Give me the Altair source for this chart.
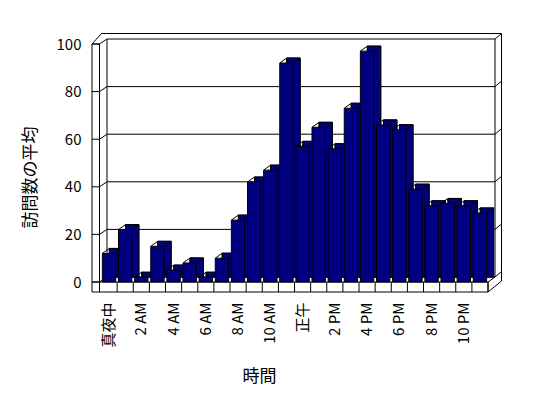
import altair as alt
import pandas as pd

hours = list(range(24))
hour_labels = ["真夜中", "1 AM", "2 AM", "3 AM", "4 AM", "5 AM", "6 AM", "7 AM",
               "8 AM", "9 AM", "10 AM", "11 AM", "正午", "1 PM", "2 PM", "3 PM",
               "4 PM", "5 PM", "6 PM", "7 PM", "8 PM", "9 PM", "10 PM", "11 PM"]
visits = [12, 22, 2, 15, 5, 8, 2, 10, 26, 42, 47, 92,
          57, 65, 56, 73, 97, 66, 64, 39, 32, 33, 32, 29]
grid_values = [0, 20, 40, 60, 80, 100]

df = pd.DataFrame({"h": hours, "label": hour_labels, "v": visits})
gdf = pd.DataFrame({"g": grid_values})

FONT = "Noto Sans CJK JP"
NAVY = "#000080"
W, H = 387, 238
DX, DY = 7, -5

shown = [lab if i % 2 == 0 else "" for i, lab in enumerate(hour_labels)]
label_expr = "[" + ",".join("'" + s + "'" for s in shown) + "][datum.value]"

x_enc = alt.X("h:O",
              scale=alt.Scale(paddingInner=0.17, paddingOuter=0.085),
              axis=alt.Axis(title="時間", labelExpr=label_expr, labelAngle=-90,
                            domain=False, ticks=False, labelPadding=20,
                            labelFont=FONT, labelFontSize=15, labelColor="black",
                            titleFont=FONT, titleFontSize=17, titleFontWeight="normal",
                            titleColor="black", titleX=158, titleY=94.5,
                            titleBaseline="middle", titleAlign="center", grid=False))
y_enc = alt.Y("v:Q",
              scale=alt.Scale(domain=[0, 100], nice=False),
              axis=alt.Axis(title="訪問数の平均", values=grid_values, domain=False,
                            ticks=False, grid=False, labelPadding=20,
                            labelFont=FONT, labelFontSize=15, labelColor="black",
                            titleFont=FONT, titleFontSize=17, titleFontWeight="normal",
                            titleColor="black", titleX=-71, titleY=133,
                            titleBaseline="middle", titleAlign="center", titleAngle=-90))

one = alt.Data(values=[{"a": 1}])


def seg(x1, v1, o1, x2, v2, o2):
    return alt.Chart(one).mark_rule(color="black", strokeWidth=1, yOffset=o1, y2Offset=o2).encode(
        x=alt.value(x1), x2=alt.value(x2), y=alt.datum(v1), y2=alt.datum(v2))


# back wall gridlines and wall ticks
grid_back = alt.Chart(gdf).mark_rule(color="black", yOffset=DY).encode(
    y=alt.Y("g:Q"), x=alt.value(6), x2=alt.value(394))
grid_tick = alt.Chart(gdf).mark_rule(color="black").encode(
    y=alt.Y("g:Q"), x=alt.value(-9), x2=alt.value(-1.5))
grid_diag = alt.Chart(gdf).mark_rule(color="black", y2Offset=DY).encode(
    y=alt.Y("g:Q"), y2=alt.Y2("g"), x=alt.value(-1.5), x2=alt.value(6))
grid_rdiag = alt.Chart(gdf).mark_rule(color="black", yOffset=DY, y2Offset=-10).encode(
    y=alt.Y("g:Q"), y2=alt.Y2("g"), x=alt.value(394), x2=alt.value(400))

frame = [
    seg(6, 100, DY, 6, 0, DY),          # back wall left edge
    seg(394, 100, DY, 394, 0, DY),      # back wall right edge
    seg(0.5, 100, -10.5, 400.5, 100, -10.5),  # back wall outer top
    seg(400.5, 100, -10.5, 400.5, 0, -1),     # back wall outer right
    seg(-9, 100, 0, 0.5, 100, -10.5),   # left wall outer top diagonal
    seg(-9, 100, 0, -1.5, 100, 0),      # left wall top
    seg(-9, 100, 0, -9, 0, 10),         # left wall outer vertical
    seg(-1.5, 100, 0, -1.5, 0, 10),     # left wall inner vertical
    seg(-9, 0, 0, 387, 0, 0),           # floor top
    seg(-9, 0, 10, 387, 0, 10),         # floor bottom
    seg(387, 0, 0, 387, 0, 10),         # floor right
    seg(387, 0, 0, 394, 0, DY),         # floor right top diagonal
    seg(387, 0, 10, 400.5, 0, -1),      # floor right bottom diagonal
]

back_bars = alt.Chart(df).mark_bar(color=NAVY, stroke="black", strokeWidth=1,
                                   xOffset=DX, yOffset=DY, y2Offset=DY).encode(x=x_enc, y=y_enc)
diag_l = alt.Chart(df).mark_rule(color="black", x2Offset=DX, y2Offset=DY).encode(
    x=alt.X("h:O", bandPosition=0), x2=alt.X2("h", bandPosition=0),
    y=alt.Y("v:Q"), y2=alt.Y2("v"))
diag_r = alt.Chart(df).mark_rule(color="black", x2Offset=DX, y2Offset=DY).encode(
    x=alt.X("h:O", bandPosition=1), x2=alt.X2("h", bandPosition=1),
    y=alt.Y("v:Q"), y2=alt.Y2("v"))
front_bars = alt.Chart(df).mark_bar(color=NAVY, stroke="black", strokeWidth=1).encode(
    x=x_enc, y=y_enc)
dividers = alt.Chart(df).mark_rule(color="black", xOffset=1.4, y2Offset=10).encode(
    x=alt.X("h:O", bandPosition=1), y=alt.datum(0), y2=alt.datum(0))

chart = alt.layer(
    back_bars, grid_back, grid_tick, grid_diag, grid_rdiag, *frame,
    back_bars, diag_l, diag_r, front_bars, dividers
).properties(
    width=W, height=H,
    autosize=alt.AutoSizeParams(type="none"),
    padding={"left": 93, "top": 36, "right": 40, "bottom": 106},
).configure_view(stroke=None)

chart.save("out.html", embed_options={"renderer": "svg", "actions": False})
